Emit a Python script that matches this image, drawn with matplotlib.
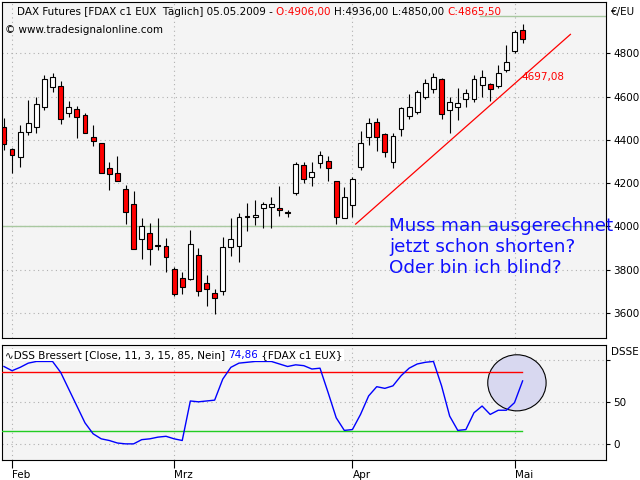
"""DAX Futures Kerzenchart mit DSS Bressert."""

import matplotlib
matplotlib.use("Agg")
import matplotlib.pyplot as plt
from matplotlib.patches import Ellipse

# ===========================
# Daten (30.01.2009 - 05.05.2009)
# ===========================

eroeffnung = [4462, 4358, 4320, 4438, 4462, 4554, 4643, 4649, 4523, 4543, 4515, 4415, 4385,
              4269, 4246, 4172, 4105, 3942, 3969, 3911, 3912, 3803, 3762, 3757, 3866, 3738,
              3692, 3700, 3905, 3912, 4050, 4046, 4085, 4092, 4085, 4065, 4157, 4285, 4231,
              4292, 4305, 4208, 4038, 4100, 4277, 4412, 4485, 4428, 4300, 4449, 4511, 4531,
              4600, 4634, 4682, 4538, 4551, 4589, 4588, 4654, 4657, 4649, 4723, 4812, 4906]
hoch = [4500, 4362, 4469, 4585, 4597, 4700, 4711, 4672, 4580, 4557, 4526, 4469, 4388,
        4300, 4326, 4192, 4162, 4038, 4018, 4038, 3946, 3815, 3789, 3982, 3900, 3777,
        3711, 3951, 4038, 4062, 4108, 4123, 4115, 4138, 4188, 4074, 4300, 4300, 4300,
        4349, 4326, 4208, 4182, 4231, 4443, 4500, 4500, 4434, 4431, 4554, 4612, 4631,
        4680, 4711, 4688, 4597, 4638, 4634, 4700, 4723, 4665, 4746, 4838, 4910, 4936]
tief = [4354, 4249, 4274, 4423, 4431, 4538, 4623, 4474, 4505, 4408, 4431, 4374, 4246,
        4169, 4208, 4012, 3895, 3849, 3820, 3892, 3788, 3680, 3688, 3751, 3677, 3634,
        3597, 3682, 3862, 3834, 3977, 4008, 3992, 3992, 4049, 4043, 4146, 4203, 4188,
        4269, 4208, 4011, 4038, 4043, 4262, 4377, 4351, 4323, 4272, 4418, 4497, 4520,
        4588, 4615, 4495, 4431, 4492, 4554, 4577, 4600, 4580, 4638, 4715, 4803, 4850]
schluss = [4382, 4331, 4435, 4477, 4565, 4682, 4689, 4495, 4551, 4505, 4434, 4397, 4249,
           4242, 4208, 4066, 3895, 4000, 3895, 3909, 3858, 3689, 3720, 3918, 3700, 3711,
           3669, 3905, 3942, 4043, 4046, 4054, 4105, 4103, 4074, 4062, 4288, 4218, 4251,
           4331, 4269, 4046, 4135, 4218, 4388, 4477, 4412, 4343, 4418, 4546, 4551, 4620,
           4662, 4692, 4518, 4577, 4569, 4615, 4680, 4689, 4634, 4708, 4762, 4897, 4865.5]

dss = [92, 87, 91, 96, 98, 98, 98, 85, 65, 45, 25, 12, 6, 4, 1, 0, 0, 5, 6, 8, 9, 6, 4,
       51, 50, 51, 52, 77, 91, 96, 97, 98, 98, 98, 95, 92, 94, 93, 89, 90, 61, 31, 16, 17,
       35, 57, 68, 66, 69, 81, 90, 95, 97, 98, 69, 33, 16, 17, 37, 45, 35, 40, 40, 49, 74.86]

monate = ["Feb", "Mrz", "Apr", "Mai"]
monat_index = [1, 21, 43, 63]

preis_ticks = [3600, 3800, 4000, 4200, 4400, 4600, 4800]

trend_x = [43.4, 69.9]
trend_y = [4011, 4888]

hintergrund = "#f4f4f4"
schrift = 7.5

# ===========================
# Figur
# ===========================

fig = plt.figure(figsize=(6.4, 4.8), dpi=100)
ax = fig.add_axes([0.003, 0.296, 0.944, 0.700], facecolor=hintergrund)
ax2 = fig.add_axes([0.003, 0.042, 0.944, 0.240], facecolor=hintergrund)

x = list(range(len(schluss)))

# Kerzen
for i in x:
    o, h, l, c = eroeffnung[i], hoch[i], tief[i], schluss[i]
    ax.vlines(i, l, h, color="black", linewidth=0.8, zorder=3)
    farbe = "red" if c < o else "white"
    unten = min(o, c)
    hoehe = max(abs(c - o), 4)
    ax.bar(i, hoehe, bottom=unten, width=0.6, color=farbe,
           edgecolor="black", linewidth=0.8, zorder=4)

ax.axhline(4000, color="#a8c8a0", linewidth=1, zorder=2)
ax.plot([58.7, 80], [4975, 4975], color="#a8c8a0", linewidth=1, zorder=2)
ax.plot(trend_x, trend_y, color="red", linewidth=0.9, zorder=5)
ax.text(63.9, 4690, "4697,08", color="red", fontsize=schrift, va="center")

ax.text(47.5, 3905, "Muss man ausgerechnet\njetzt schon shorten?\nOder bin ich blind?",
        color="#1010ff", fontsize=13.2, va="center", ha="left", linespacing=1.2)

ax.set_xlim(-0.25, 74.3)
ax.set_ylim(3485, 5038)
ax.yaxis.tick_right()
ax.set_yticks(preis_ticks)
ax.set_yticklabels([str(t) for t in preis_ticks], fontsize=schrift)
ax.tick_params(axis="y", length=3, pad=2)
ax.set_xticks(monat_index)
ax.set_xticklabels([])
ax.tick_params(axis="x", length=0)
ax.grid(True, color="#b0b0b0", linestyle=(0, (1, 3)), linewidth=0.8)

fig.canvas.draw()
renderer = fig.canvas.get_renderer()


def kette(x0, y0, teile, **kw):
    # schreibt farbige Textstücke nacheinander
    xp = x0
    for txt, farbe in teile:
        t = fig.text(xp, y0, txt, color=farbe, fontsize=schrift, va="center", **kw)
        bb = t.get_window_extent(renderer)
        xp = bb.x1 / fig.bbox.width


# Kopfzeile
kette(0.027, 1 - 12 / 480, [
    ("DAX Futures [FDAX c1 EUX  Täglich] 05.05.2009 - ", "black"),
    ("O:4906,00 ", "red"),
    ("H:4936,00 ", "black"),
    ("L:4850,00 ", "black"),
    ("C:4865,50", "red"),
])
fig.text(0.008, 1 - 30 / 480, "© www.tradesignalonline.com", fontsize=schrift, va="center")
fig.text(0.955, 1 - 12 / 480, "€/EU", fontsize=schrift, va="center")

# ===========================
# DSS Bressert
# ===========================

ax2.plot(x, dss, color="blue", linewidth=1, zorder=4)
ax2.plot([-0.25, 63.9], [85, 85], color="red", linewidth=1, zorder=3)
ax2.plot([-0.25, 63.9], [15, 15], color="#22cc22", linewidth=1, zorder=3)
ax2.add_patch(Ellipse((63.3, 72.6), 7.2, 66.7, facecolor="#d8d8f0",
                      edgecolor="black", linewidth=0.8, zorder=2))

ax2.set_xlim(-0.25, 74.3)
ax2.set_ylim(-19, 118)
ax2.yaxis.tick_right()
ax2.set_yticks([0, 50, 100])
ax2.set_yticklabels(["0", "50", ""], fontsize=schrift)
ax2.tick_params(axis="y", length=3, pad=2)
ax2.set_xticks(monat_index)
ax2.set_xticklabels(monate, fontsize=schrift, ha="left")
ax2.tick_params(axis="x", length=6, pad=1)
ax2.grid(True, color="#b0b0b0", linestyle=(0, (1, 3)), linewidth=0.8)

fig.text(0.955, 1 - 352 / 480, "DSSE", fontsize=schrift, va="center")
kette(0.008, 1 - 355 / 480, [
    ("∿DSS Bressert [Close, 11, 3, 15, 85, Nein] ", "black"),
    ("74,86", "blue"),
    (" {FDAX c1 EUX}", "black"),
], bbox=dict(facecolor="white", edgecolor="none", pad=1))

fig.savefig("out.png", dpi=100)
